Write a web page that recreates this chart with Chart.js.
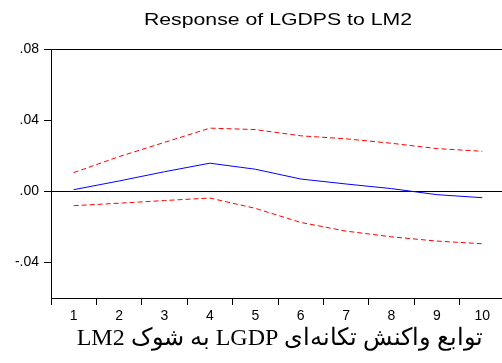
<!DOCTYPE html>
<html>
<head>
<meta charset="utf-8">
<script src="https://cdn.jsdelivr.net/npm/chart.js@4"></script>
<style>
  html, body { margin: 0; padding: 0; background: #fff; overflow: hidden; }
  #wrap { position: relative; width: 505px; height: 363px; }
</style>
</head>
<body>
<div id="wrap"><canvas id="irf"></canvas></div>
<script>
const periods = ["1", "2", "3", "4", "5", "6", "7", "8", "9", "10"];
const response = [0.0009, 0.0058, 0.0110, 0.0158, 0.0124, 0.0069, 0.0041, 0.0015, -0.0019, -0.0036];
const upperBand = [0.0105, 0.0195, 0.0275, 0.0355, 0.0347, 0.0312, 0.0295, 0.0270, 0.0240, 0.0225];
const lowerBand = [-0.0081, -0.0067, -0.0052, -0.0038, -0.0096, -0.0175, -0.0224, -0.0256, -0.0280, -0.0295];
const yTicks = [-0.04, 0, 0.04, 0.08];
const titleText = "Response of LGDPS to LM2";
const captionText = "توابع واکنش تکانه‌ای LGDP به شوک LM2";

const fmt = (v) => {
  const s = Math.abs(v).toFixed(2).replace(/^0/, "");
  return v < 0 ? "-" + s : s;
};

// titles drawn centred over the plot area, stretched like the original
const textPlugin = {
  id: "irfText",
  afterDraw(chart) {
    const { ctx, chartArea } = chart;
    const cx = (chartArea.left + chartArea.right) / 2;
    ctx.save();
    ctx.fillStyle = "#000";
    ctx.textAlign = "center";
    ctx.textBaseline = "alphabetic";
    ctx.font = "17px 'Liberation Sans', Arial, sans-serif";
    ctx.translate(cx, 25);
    ctx.scale(1.25, 1);
    ctx.fillText(titleText, 0, 0);
    ctx.restore();

    ctx.save();
    ctx.fillStyle = "#000";
    ctx.textAlign = "center";
    ctx.textBaseline = "alphabetic";
    ctx.direction = "rtl";
    ctx.font = "24px 'Liberation Serif', 'Times New Roman', serif";
    ctx.fillText(captionText, 280, 345);
    ctx.restore();
  },
};

new Chart(document.getElementById("irf"), {
  type: "line",
  data: {
    labels: periods,
    datasets: [
      {
        data: upperBand,
        borderColor: "#ff0000",
        borderWidth: 1,
        borderDash: [5, 3],
        pointRadius: 0,
        fill: false,
      },
      {
        data: response,
        borderColor: "#0000ff",
        borderWidth: 1,
        pointRadius: 0,
        fill: false,
      },
      {
        data: lowerBand,
        borderColor: "#ff0000",
        borderWidth: 1,
        borderDash: [5, 3],
        pointRadius: 0,
        fill: false,
      },
    ],
  },
  options: {
    responsive: true,
    maintainAspectRatio: false,
    animation: false,
    layout: { padding: { top: 49, bottom: 35, left: 0, right: 0 } },
    plugins: {
      legend: { display: false },
      tooltip: { enabled: false },
      title: { display: false },
    },
    scales: {
      x: {
        offset: true,
        grid: {
          offset: true,
          drawOnChartArea: false,
          drawTicks: true,
          tickLength: 7,
          tickColor: "#000",
        },
        border: { color: "#000", width: 1 },
        ticks: {
          color: "#000",
          padding: 3,
          maxRotation: 0,
          font: { family: "'Liberation Sans', Arial, sans-serif", size: 14 },
        },
        afterFit: (scale) => { scale.height = 30; },
      },
      y: {
        min: -0.06,
        max: 0.08,
        afterBuildTicks: (scale) => {
          scale.ticks = yTicks.map((v) => ({ value: v }));
        },
        grid: {
          color: (c) => (c.tick && (c.tick.value === 0 || c.tick.value === 0.08) ? "#000" : "rgba(0,0,0,0)"),
          drawTicks: true,
          tickLength: 7,
          tickColor: "#000",
          lineWidth: 1,
        },
        border: { color: "#000", width: 1 },
        ticks: {
          color: "#000",
          padding: 5,
          callback: (v) => fmt(v),
          font: { family: "'Liberation Sans', Arial, sans-serif", size: 14 },
        },
        afterFit: (scale) => { scale.width = 51; },
      },
    },
  },
  plugins: [textPlugin],
});
</script>
</body>
</html>
